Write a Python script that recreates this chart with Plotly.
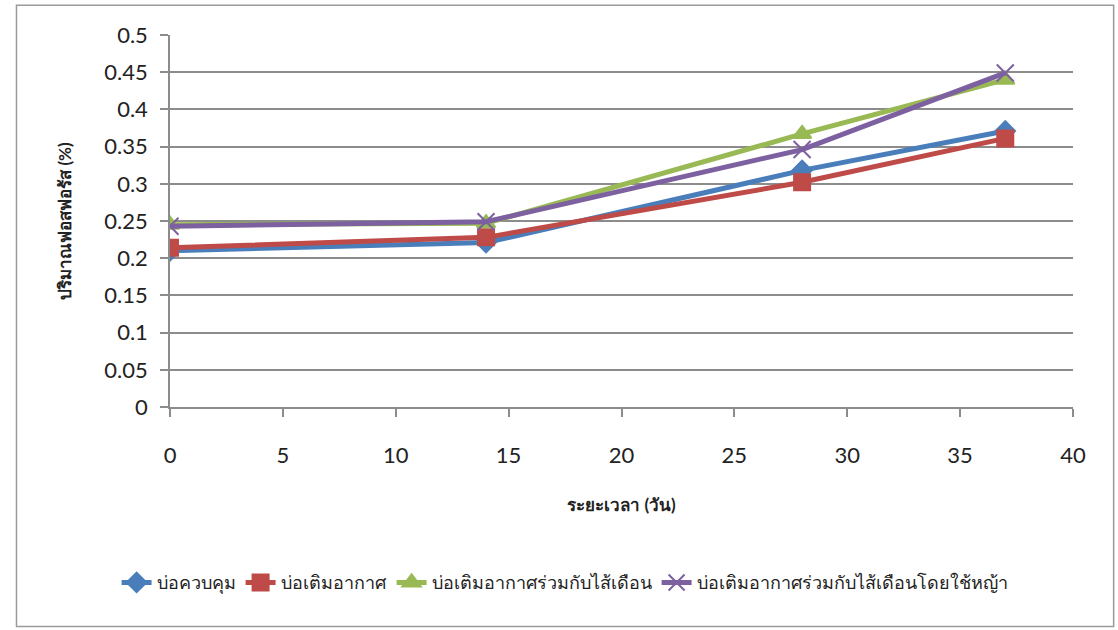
import plotly.graph_objects as go

days = [0, 14, 28, 37]
control = [0.21, 0.221, 0.318, 0.371]
aerated = [0.214, 0.228, 0.302, 0.361]
aerated_worms = [0.245, 0.247, 0.367, 0.44]
aerated_worms_grass = [0.243, 0.249, 0.346, 0.449]

series = [
    ("บ่อควบคุม", control, "#4a7ebb", "diamond", 15),
    ("บ่อเติมอากาศ", aerated, "#be4b48", "square", 16),
    ("บ่อเติมอากาศร่วมกับไส้เดือน", aerated_worms, "#98b954", "triangle-up", 16),
    ("บ่อเติมอากาศร่วมกับไส้เดือนโดยใช้หญ้า", aerated_worms_grass, "#7d60a0", "x-thin", 17),
]

fig = go.Figure()
for name, vals, color, sym, size in series:
    fig.add_trace(go.Scatter(
        x=days, y=vals, name=name, mode="lines+markers",
        line=dict(color=color, width=5),
        marker=dict(symbol=sym, size=size, color=color,
                    line=dict(color=color, width=2)),
    ))

font_main = "Lato, 'Open Sans', 'Noto Sans', sans-serif"

fig.update_layout(
    width=1118, height=630,
    margin=dict(l=170, r=45, t=35, b=223),
    paper_bgcolor="white", plot_bgcolor="white",
    font=dict(family=font_main, color="#222222"),
    showlegend=True,
    legend=dict(orientation="h", xref="container", x=0.505, xanchor="center",
                yref="container", y=0.075, yanchor="middle",
                font=dict(size=18), tracegroupgap=0, itemwidth=30),
    xaxis=dict(range=[0, 40], tick0=0, dtick=5, showgrid=False,
               showline=True, linecolor="#8c8c8c", linewidth=1.5,
               ticks="outside", ticklen=8, tickcolor="#8c8c8c", tickwidth=1.5,
               ticklabelstandoff=20, tickfont=dict(size=22),
               zeroline=False,
               title=dict(text="<b>ระยะเวลา (วัน)</b>", font=dict(size=17), standoff=32)),
    yaxis=dict(range=[0, 0.5], tick0=0, dtick=0.05, showgrid=True,
               gridcolor="#8c8c8c", gridwidth=1.5,
               showline=True, linecolor="#8c8c8c", linewidth=1.5,
               ticks="outside", ticklen=8, tickcolor="#8c8c8c", tickwidth=1.5,
               ticklabelstandoff=8, tickfont=dict(size=22),
               zeroline=False,
               title=dict(text="<b>ปริมาณฟอสฟอรัส (%)</b>", font=dict(size=17), standoff=28)),
    shapes=[dict(type="rect", xref="paper", yref="paper",
                 x0=-0.17, x1=1.045, y0=-0.59, y1=1.08,
                 line=dict(color="#9a9a9a", width=1.5), layer="below")],
)

fig.write_html("out.html")
